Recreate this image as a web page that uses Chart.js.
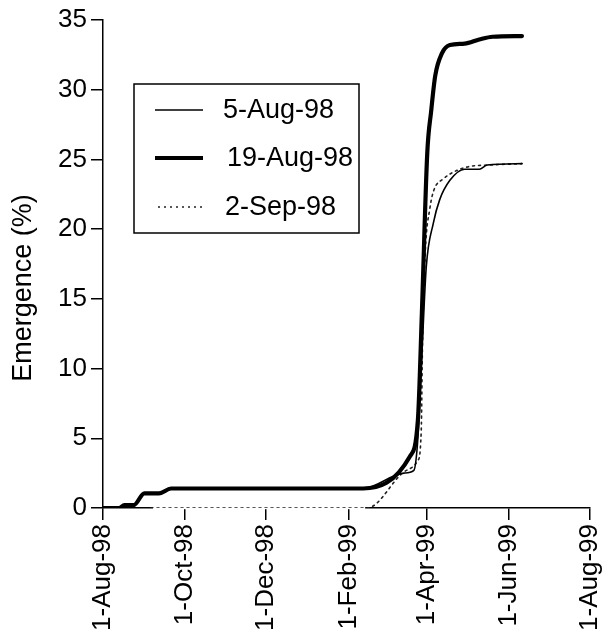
<!DOCTYPE html>
<html><head><meta charset="utf-8">
<script src="https://cdn.jsdelivr.net/npm/chart.js@4/dist/chart.umd.min.js"></script>
<style>html,body{margin:0;padding:0;background:#fff}#wrap{width:602px;height:639px;position:relative}</style>
</head><body><div id="wrap"><canvas id="c" width="602" height="639"></canvas></div>
<script>
// X values are days since 1-Aug-98
const tickDays = [0, 61, 122, 184, 243, 304, 365];
const tickLabels = ['1-Aug-98','1-Oct-98','1-Dec-98','1-Feb-99','1-Apr-99','1-Jun-99','1-Aug-99'];
const yTicks = [0, 5, 10, 15, 20, 25, 30, 35];
const seriesLabels = ['5-Aug-98', '19-Aug-98', '2-Sep-98'];

const aug5Days = [0, 12, 16, 23, 31, 42, 51, 195, 225.5, 233, 236, 239, 242.3, 247.5, 252.3, 260, 271, 282, 288, 314];
const aug5Pct  = [0, 0, 0.2, 0.2, 1.05, 1.05, 1.4, 1.4, 2.5, 2.7, 5, 11, 17.3, 20.4, 22.1, 23.5, 24.3, 24.3, 24.6, 24.7];

const aug19Days = [0, 12, 16, 23, 31, 42, 51, 195, 230, 236, 239, 243, 246, 249, 254, 260, 271, 282, 292, 314];
const aug19Pct  = [0, 0, 0.2, 0.2, 1.05, 1.05, 1.4, 1.4, 3.7, 6.3, 14, 25.4, 28.5, 31, 32.6, 33.2, 33.3, 33.6, 33.8, 33.85];

const sep2Days = [36, 198, 227.5, 236, 238.5, 239.5, 241.5, 245, 248, 255, 265, 275, 290, 314];
const sep2Pct  = [0, 0, 2.7, 3.4, 5.5, 12, 18.3, 21.5, 22.8, 23.6, 24.2, 24.5, 24.6, 24.7];

const pts = (xs, ys) => xs.map((x, i) => ({x: x, y: ys[i]}));
const FONT = '"Liberation Sans", Arial, Helvetica, sans-serif';
const legendTextX = [223, 227, 225];

const axisGapPlugin = {
  id: 'axisGap',
  beforeDatasetsDraw(chart) {
    // the dotted series lies on the x axis at 0; let it replace the solid axis there
    const xs = chart.scales.x, ys = chart.scales.y, ctx = chart.ctx;
    const x0 = xs.getPixelForValue(sep2Days[0]) + 2;
    const x1 = xs.getPixelForValue(sep2Days[1]) - 2;
    const y0 = ys.getPixelForValue(0);
    ctx.save();
    ctx.fillStyle = '#fff';
    ctx.fillRect(x0, y0 - 1.2, x1 - x0, 2.4);
    ctx.restore();
  }
};

const legendPlugin = {
  id: 'boxLegend',
  afterDraw(chart) {
    const ctx = chart.ctx;
    ctx.save();
    ctx.strokeStyle = '#000';
    ctx.lineWidth = 1.5;
    ctx.strokeRect(134, 84, 225, 149);
    const rows = [110, 158, 207];
    chart.data.datasets.forEach((ds, i) => {
      const y = rows[i];
      ctx.beginPath();
      ctx.setLineDash(ds.borderDash || []);
      ctx.lineWidth = ds.borderWidth;
      ctx.strokeStyle = ds.borderColor;
      ctx.moveTo(i === 2 ? 158 : 155, y); ctx.lineTo(203, y);
      ctx.stroke();
      ctx.setLineDash([]);
      ctx.fillStyle = '#000';
      ctx.font = '27px ' + FONT;
      ctx.textAlign = 'left';
      ctx.textBaseline = 'middle';
      ctx.fillText(ds.label, legendTextX[i], y + 1);
    });
    // y axis title
    ctx.translate(24, 288);
    ctx.rotate(-Math.PI / 2);
    ctx.textAlign = 'center';
    ctx.textBaseline = 'middle';
    ctx.font = '27px ' + FONT;
    ctx.fillStyle = '#000';
    ctx.fillText('Emergence (%)', 0, 0);
    ctx.restore();
  }
};

new Chart(document.getElementById('c'), {
  type: 'line',
  data: {
    datasets: [
      { label: seriesLabels[0], data: pts(aug5Days, aug5Pct), borderColor: '#000', borderWidth: 1.6, order: 1 },
      { label: seriesLabels[1], data: pts(aug19Days, aug19Pct), borderColor: '#000', borderWidth: 4.2, order: 0 },
      { label: seriesLabels[2], data: pts(sep2Days, sep2Pct), borderColor: '#222', borderWidth: 1.6, borderDash: [2, 4], order: 2 }
    ]
  },
  options: {
    responsive: false,
    animation: false,
    devicePixelRatio: 1,
    elements: {
      point: { radius: 0 },
      line: { cubicInterpolationMode: 'monotone', borderJoinStyle: 'round', borderCapStyle: 'round', fill: false }
    },
    layout: { padding: { left: 0, right: 12, top: 20, bottom: 0 } },
    plugins: { legend: { display: false }, tooltip: { enabled: false } },
    scales: {
      x: {
        type: 'linear', min: 0, max: 365,
        afterBuildTicks: s => { s.ticks = tickDays.map(v => ({ value: v })); },
        afterFit: s => { s.height = 131; s.paddingLeft = 0; s.paddingRight = 0; },
        grid: { drawOnChartArea: false, drawTicks: true, tickLength: 12, color: '#000', lineWidth: 1.5 },
        border: { color: '#000', width: 1.5 },
        ticks: {
          color: '#000', font: { family: FONT, size: 26 }, padding: 4,
          minRotation: 90, maxRotation: 90, autoSkip: false,
          callback: v => { const i = tickDays.indexOf(v); return i >= 0 ? tickLabels[i] : ''; }
        }
      },
      y: {
        type: 'linear', min: 0, max: 35,
        afterBuildTicks: s => { s.ticks = yTicks.map(v => ({ value: v })); },
        afterFit: s => { s.width = 103; },
        grid: { drawOnChartArea: false, drawTicks: true, tickLength: 12, color: '#000', lineWidth: 1.5 },
        border: { color: '#000', width: 1.5 },
        ticks: { color: '#000', font: { family: FONT, size: 26 }, padding: 4 }
      }
    }
  },
  plugins: [axisGapPlugin, legendPlugin]
});
</script></body></html>
